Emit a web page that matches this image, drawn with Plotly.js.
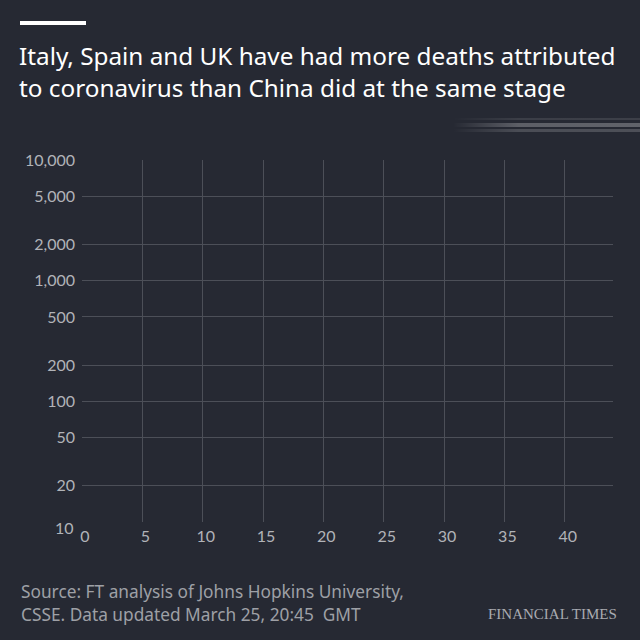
<!DOCTYPE html>
<html>
<head>
<meta charset="utf-8">
<script src="https://cdn.plot.ly/plotly-3.0.1.min.js"></script>
<style>
  html, body { margin: 0; padding: 0; background: #262933; }
  #chart { width: 640px; height: 640px; }
</style>
</head>
<body>
<div id="chart"></div>
<script>
// chart data (no series are plotted on this frame, only the axes)
var days = [];
var deaths = [];
var xTicks = [0, 5, 10, 15, 20, 25, 30, 35, 40];
var yTicks = [10, 20, 50, 100, 200, 500, 1000, 2000, 5000, 10000];
var yTickText = ['', '20', '50', '100', '200', '500', '1,000', '2,000', '5,000', '10,000'];
var xMax = 44;

var bg = '#262933';
var grid = '#4c4f58';
var tickCol = '#b1b3b8';
var font = 'Lato, "Noto Sans", sans-serif';
var textFont = '"Noto Sans", Lato, sans-serif';

// plot area in pixels: l 82, r 613, t 160, b 522
function px(x) { return (x - 82) / 531; }
function py(y) { return (522 - y) / 362; }

var stripe = 'data:image/svg+xml;utf8,' + encodeURIComponent(
  '<svg xmlns="http://www.w3.org/2000/svg" width="187" height="19">' +
  '<defs><linearGradient id="g" x1="0" x2="1" y1="0" y2="0">' +
  '<stop offset="0" stop-color="#fff" stop-opacity="0"/>' +
  '<stop offset="0.35" stop-color="#fff" stop-opacity="0.28"/>' +
  '<stop offset="1" stop-color="#fff" stop-opacity="0.3"/>' +
  '</linearGradient></defs>' +
  '<rect x="0" y="2" width="187" height="2" fill="url(#g)" opacity="0.35"/>' +
  '<rect x="0" y="7" width="187" height="4" fill="url(#g)" opacity="0.9"/>' +
  '<rect x="0" y="13" width="187" height="3" fill="url(#g)" opacity="0.6"/>' +
  '</svg>');

var data = [{
  x: days,
  y: deaths,
  type: 'scatter',
  mode: 'lines',
  showlegend: false,
  hoverinfo: 'skip'
}];

var layout = {
  width: 640,
  height: 640,
  paper_bgcolor: bg,
  plot_bgcolor: bg,
  margin: { l: 82, r: 27, t: 160, b: 118 },
  showlegend: false,
  font: { family: font, color: tickCol },
  title: {
    text: 'Italy, Spain and UK have had more deaths attributed<br>to coronavirus than China did at the same stage',
    font: { family: textFont, size: 24.3, color: '#ffffff' },
    xref: 'container', yref: 'container',
    x: 19 / 640, xanchor: 'left',
    y: 1 - 65 / 640, yanchor: 'top',
    pad: { t: 0, b: 0, l: 0, r: 0 }
  },
  xaxis: {
    range: [0, xMax],
    tickvals: xTicks,
    showgrid: true,
    gridcolor: grid,
    gridwidth: 1,
    zeroline: false,
    showline: false,
    ticks: '',
    ticklabelstandoff: 3,
    ticklabelshift: 3,
    tickfont: { family: font, size: 16, color: tickCol },
    fixedrange: true
  },
  yaxis: {
    type: 'log',
    range: [1, 4],
    tickvals: yTicks,
    ticktext: yTickText,
    showgrid: true,
    gridcolor: grid,
    gridwidth: 1,
    zeroline: false,
    showline: false,
    ticks: '',
    ticklabelstandoff: 6,
    tickfont: { family: font, size: 16, color: tickCol },
    fixedrange: true
  },
  shapes: [
    { type: 'rect', xref: 'paper', yref: 'paper',
      x0: px(20), x1: px(86), y0: py(25), y1: py(21),
      fillcolor: '#ffffff', line: { width: 0 } }
  ],
  images: [
    { source: stripe, xref: 'paper', yref: 'paper',
      x: px(453), y: py(116), sizex: (640 - 453) / 531, sizey: 19 / 362,
      xanchor: 'left', yanchor: 'top', sizing: 'stretch', layer: 'above' }
  ],
  annotations: [
    { text: '10', xref: 'paper', yref: 'y', x: 0, y: 1,
      xanchor: 'right', yanchor: 'middle', xshift: -6, yshift: -5,
      showarrow: false, font: { family: font, size: 16, color: tickCol } },
    { text: 'Source: FT analysis of Johns Hopkins University,', xref: 'paper', yref: 'paper',
      x: px(19), y: py(591), xanchor: 'left', yanchor: 'middle', showarrow: false,
      font: { family: textFont, size: 17.3, color: '#9ea0a6' } },
    { text: 'CSSE. Data updated March 25, 20:45  GMT', xref: 'paper', yref: 'paper',
      x: px(19), y: py(614), xanchor: 'left', yanchor: 'middle', showarrow: false,
      font: { family: textFont, size: 17.3, color: '#9ea0a6' } },
    { text: 'FINANCIAL TIMES', xref: 'paper', yref: 'paper',
      x: px(619), y: py(614), xanchor: 'right', yanchor: 'middle', showarrow: false,
      font: { family: '"Liberation Serif", "DejaVu Serif", serif', size: 15, color: '#a9abb1' } }
  ]
};

Plotly.newPlot('chart', data, layout, { staticPlot: true, displayModeBar: false });
</script>
</body>
</html>
